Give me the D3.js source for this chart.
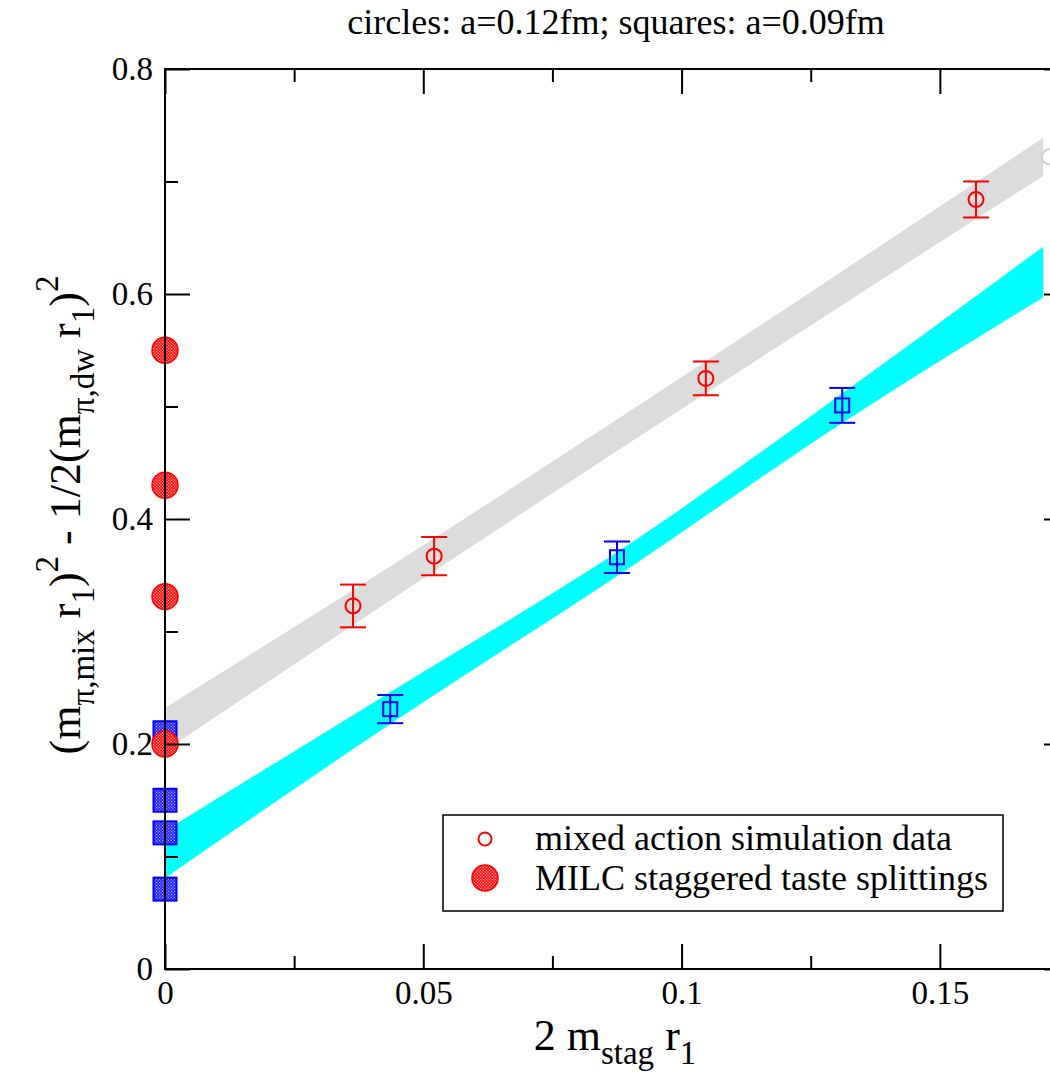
<!DOCTYPE html>
<html>
<head>
<meta charset="utf-8">
<script src="https://cdn.jsdelivr.net/npm/d3@7"></script>
<style>
  body { margin: 0; background: #fff; }
  svg { display: block; }
</style>
</head>
<body>
<div id="chart"></div>
<script>
// a=0.12fm mixed action points (circles)
const circX = [0.0364, 0.0521, 0.1047, 0.1570];
const circY = [0.3227, 0.367, 0.525, 0.684];
const circErr = [0.019, 0.017, 0.015, 0.016];
// a=0.09fm mixed action points (squares)
const sqX = [0.0436, 0.0875, 0.1311];
const sqY = [0.231, 0.366, 0.501];
const sqErr = [0.0125, 0.014, 0.0155];
// MILC staggered taste splittings at x=0
const milcCircY = [0.55, 0.43, 0.331, 0.20];
const milcSqY = [0.21, 0.15, 0.121, 0.071];
// fit bands
const bandX = [0, 0.045, 0.09, 0.13, 0.17];
const grayUpper = [0.232, 0.362, 0.496, 0.617, 0.739];
const grayLower = [0.194, 0.332, 0.468, 0.587, 0.705];
const cyanUpper = [0.123, 0.250, 0.378, 0.508, 0.642];
const cyanLower = [0.081, 0.222, 0.357, 0.482, 0.597];
// faded point at the right edge
const fadedX = [0.1712];
const fadedY = [0.722];

const xTicks = [0, 0.05, 0.1, 0.15];
const xTickLabels = ["0", "0.05", "0.1", "0.15"];
const xMinor = [0.025, 0.075, 0.125, 0.175];
const yTicks = [0, 0.2, 0.4, 0.6, 0.8];
const yTickLabels = ["0", "0.2", "0.4", "0.6", "0.8"];
const yMinor = [0.1, 0.3, 0.5, 0.7];

const FONT = '"Liberation Serif"';
const W = 1050, H = 1079;
const margin = { left: 165, top: 69, right: 1069, bottom: 969 };

const svg = d3.select("#chart").append("svg")
    .attr("width", W)
    .attr("height", H);

const x = d3.scaleLinear().domain([0, 0.175]).range([margin.left, margin.right]);
const y = d3.scaleLinear().domain([0, 0.8]).range([margin.bottom, margin.top]);

const defs = svg.append("defs");
function stipple(id, base, dot) {
    const p = defs.append("pattern")
        .attr("id", id)
        .attr("patternUnits", "userSpaceOnUse")
        .attr("width", 3).attr("height", 3);
    p.append("rect").attr("width", 3).attr("height", 3).attr("fill", base);
    p.append("rect").attr("x", 0).attr("y", 0).attr("width", 1).attr("height", 1).attr("fill", dot);
    p.append("rect").attr("x", 1.5).attr("y", 1.5).attr("width", 1).attr("height", 1).attr("fill", dot);
}
stipple("redDots", "#ff1a1a", "#ffb0b0");
stipple("blueDots", "#2a2aff", "#a8a8ff");

// bands
const bandData = (up, lo) => bandX.map((d, i) => ({ x: d, hi: up[i], lo: lo[i] }));
const area = d3.area()
    .x(d => x(d.x))
    .y0(d => y(d.lo))
    .y1(d => y(d.hi))
    .curve(d3.curveMonotoneX);

svg.append("path")
    .datum(bandData(grayUpper, grayLower))
    .attr("d", area)
    .attr("fill", "#dcdcdc");

svg.append("path")
    .datum(bandData(cyanUpper, cyanLower))
    .attr("d", area)
    .attr("fill", "#00ffff");

// faded point
svg.selectAll(".faded")
    .data(fadedX)
    .enter().append("circle")
    .attr("cx", d => x(d))
    .attr("cy", (d, i) => y(fadedY[i]))
    .attr("r", 7.5)
    .attr("fill", "none")
    .attr("stroke", "#d0d0d0")
    .attr("stroke-width", 2);

// error bars + markers: circles
const capW = 13;
const circG = svg.append("g").attr("stroke", "#ff0000").attr("stroke-width", 2).attr("fill", "none");
circX.forEach((cx, i) => {
    const px = x(cx);
    const y1 = y(circY[i] + circErr[i]), y0 = y(circY[i] - circErr[i]);
    circG.append("line").attr("x1", px).attr("x2", px).attr("y1", y1).attr("y2", y0);
    circG.append("line").attr("x1", px - capW).attr("x2", px + capW).attr("y1", y1).attr("y2", y1);
    circG.append("line").attr("x1", px - capW).attr("x2", px + capW).attr("y1", y0).attr("y2", y0);
    circG.append("circle").attr("cx", px).attr("cy", y(circY[i])).attr("r", 7.5);
});

const sqG = svg.append("g").attr("stroke", "#0000ff").attr("stroke-width", 2).attr("fill", "none");
sqX.forEach((sx, i) => {
    const px = x(sx);
    const y1 = y(sqY[i] + sqErr[i]), y0 = y(sqY[i] - sqErr[i]);
    sqG.append("line").attr("x1", px).attr("x2", px).attr("y1", y1).attr("y2", y0);
    sqG.append("line").attr("x1", px - capW).attr("x2", px + capW).attr("y1", y1).attr("y2", y1);
    sqG.append("line").attr("x1", px - capW).attr("x2", px + capW).attr("y1", y0).attr("y2", y0);
    sqG.append("rect").attr("x", px - 7).attr("y", y(sqY[i]) - 7).attr("width", 14).attr("height", 14);
});

// MILC markers
svg.selectAll(".milcSq")
    .data(milcSqY)
    .enter().append("rect")
    .attr("x", x(0) - 11.5)
    .attr("y", d => y(d) - 11.5)
    .attr("width", 23).attr("height", 23)
    .attr("fill", "url(#blueDots)")
    .attr("stroke", "#0000ff")
    .attr("stroke-width", 2);

svg.selectAll(".milcCirc")
    .data(milcCircY)
    .enter().append("circle")
    .attr("cx", x(0))
    .attr("cy", d => y(d))
    .attr("r", 13)
    .attr("fill", "url(#redDots)")
    .attr("stroke", "#ff0000")
    .attr("stroke-width", 1.5);

// axes (ticks inward)
function styleAxis(g) {
    g.select(".domain").remove();
    g.selectAll(".tick line").attr("stroke", "#000").attr("stroke-width", 2);
    g.selectAll(".tick text")
        .attr("fill", "#000")
        .style("font-family", FONT)
        .style("font-size", "33px");
}
svg.append("g").attr("transform", `translate(0,${margin.bottom})`)
    .call(d3.axisBottom(x).tickValues(xTicks).tickFormat((d, i) => xTickLabels[i]).tickSize(-25).tickPadding(12))
    .call(styleAxis);
svg.append("g").attr("transform", `translate(0,${margin.bottom})`)
    .call(d3.axisBottom(x).tickValues(xMinor).tickFormat("").tickSize(-13))
    .call(styleAxis);
svg.append("g").attr("transform", `translate(0,${margin.top})`)
    .call(d3.axisTop(x).tickValues(xTicks).tickFormat("").tickSize(-25))
    .call(styleAxis);
svg.append("g").attr("transform", `translate(0,${margin.top})`)
    .call(d3.axisTop(x).tickValues(xMinor).tickFormat("").tickSize(-13))
    .call(styleAxis);
svg.append("g").attr("transform", `translate(${margin.left},0)`)
    .call(d3.axisLeft(y).tickValues(yTicks).tickFormat((d, i) => yTickLabels[i]).tickSize(-25).tickPadding(12))
    .call(styleAxis);
svg.append("g").attr("transform", `translate(${margin.left},0)`)
    .call(d3.axisLeft(y).tickValues(yMinor).tickFormat("").tickSize(-13))
    .call(styleAxis);
svg.append("g").attr("transform", `translate(${margin.right},0)`)
    .call(d3.axisRight(y).tickValues(yTicks).tickFormat("").tickSize(-25))
    .call(styleAxis);
svg.append("g").attr("transform", `translate(${margin.right},0)`)
    .call(d3.axisRight(y).tickValues(yMinor).tickFormat("").tickSize(-13))
    .call(styleAxis);

svg.append("rect")
    .attr("x", margin.left).attr("y", margin.top)
    .attr("width", margin.right - margin.left).attr("height", margin.bottom - margin.top)
    .attr("fill", "none")
    .attr("stroke", "#000")
    .attr("stroke-width", 2);

// title
svg.append("text")
    .attr("x", 616).attr("y", 34)
    .attr("text-anchor", "middle")
    .style("font-family", FONT)
    .style("font-size", "36px")
    .text("circles: a=0.12fm; squares: a=0.09fm");

// x label
const xl = svg.append("text")
    .attr("x", 615).attr("y", 1050)
    .attr("text-anchor", "middle")
    .style("font-family", FONT)
    .style("font-size", "44px");
xl.append("tspan").text("2 m");
xl.append("tspan").attr("dy", 14).style("font-size", "33px").text("stag");
xl.append("tspan").attr("dy", -14).text(" r");
xl.append("tspan").attr("dy", 14).style("font-size", "33px").text("1");

// y label
const yl = svg.append("text")
    .attr("transform", "translate(80,515) rotate(-90)")
    .attr("text-anchor", "middle")
    .style("font-family", FONT)
    .style("font-size", "44px");
yl.append("tspan").text("(m");
yl.append("tspan").attr("dy", 14).style("font-size", "33px").text("π,mix");
yl.append("tspan").attr("dy", -14).text(" r");
yl.append("tspan").attr("dy", 14).style("font-size", "33px").text("1");
yl.append("tspan").attr("dy", -14).text(")");
yl.append("tspan").attr("dy", -22).style("font-size", "33px").text("2");
yl.append("tspan").attr("dy", 22).text(" - 1/2(m");
yl.append("tspan").attr("dy", 14).style("font-size", "33px").text("π,dw");
yl.append("tspan").attr("dy", -14).text(" r");
yl.append("tspan").attr("dy", 14).style("font-size", "33px").text("1");
yl.append("tspan").attr("dy", -14).text(")");
yl.append("tspan").attr("dy", -22).style("font-size", "33px").text("2");

// legend
const legend = svg.append("g").attr("class", "legend");
legend.append("rect")
    .attr("x", 443).attr("y", 815)
    .attr("width", 560).attr("height", 96)
    .attr("fill", "#fff")
    .attr("stroke", "#000")
    .attr("stroke-width", 1.5);
legend.append("circle")
    .attr("cx", 485).attr("cy", 839).attr("r", 6.5)
    .attr("fill", "none").attr("stroke", "#ff0000").attr("stroke-width", 2);
legend.append("text")
    .attr("x", 535).attr("y", 850)
    .style("font-family", FONT)
    .style("font-size", "36px")
    .text("mixed action simulation data");
legend.append("circle")
    .attr("cx", 485).attr("cy", 878).attr("r", 13)
    .attr("fill", "url(#redDots)").attr("stroke", "#ff0000").attr("stroke-width", 1.5);
legend.append("text")
    .attr("x", 535).attr("y", 890)
    .style("font-family", FONT)
    .style("font-size", "36px")
    .text("MILC staggered taste splittings");
</script>
</body>
</html>
